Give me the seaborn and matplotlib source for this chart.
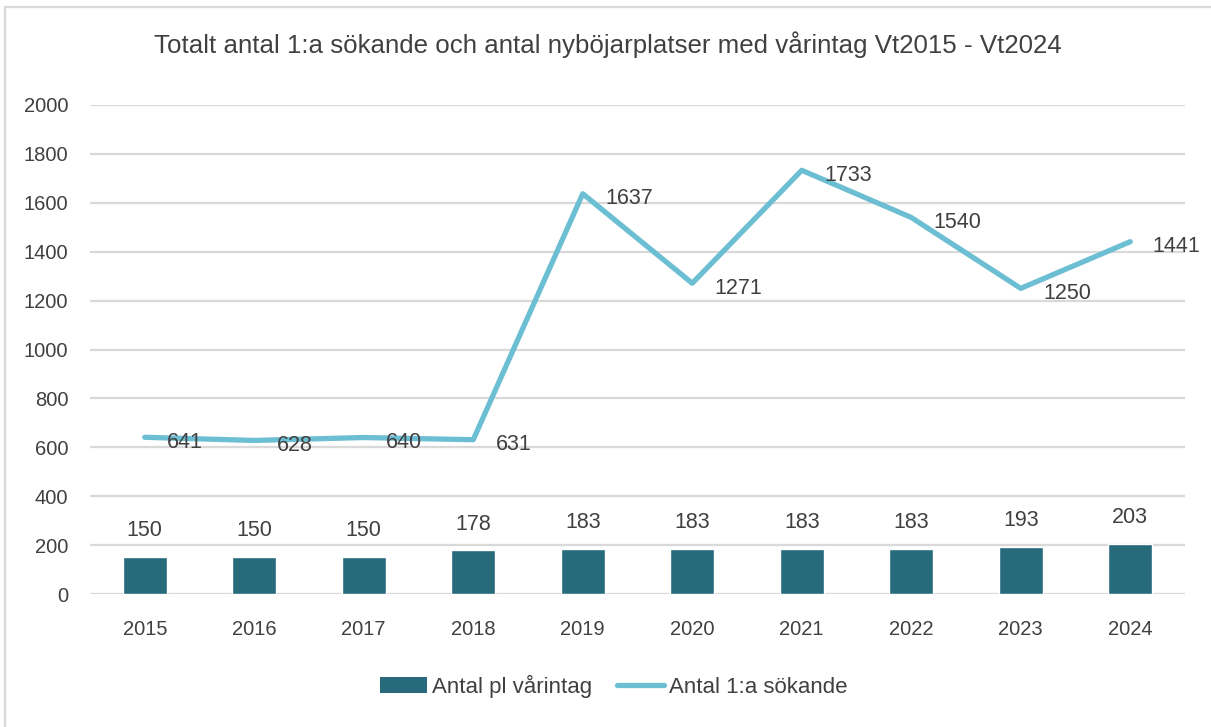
import matplotlib
matplotlib.use("Agg")
import matplotlib.pyplot as plt
from matplotlib.lines import Line2D
from matplotlib.patches import Patch
import seaborn as sns
import pandas as pd

# Data
years = ["2015", "2016", "2017", "2018", "2019", "2020", "2021", "2022", "2023", "2024"]
platser = [150, 150, 150, 178, 183, 183, 183, 183, 193, 203]
sokande = [641, 628, 640, 631, 1637, 1271, 1733, 1540, 1250, 1441]

title = "Totalt antal 1:a sökande och antal nyböjarplatser med vårintag Vt2015 - Vt2024"
bar_label = "Antal pl vårintag"
line_label = "Antal 1:a sökande"

BAR_COLOR = "#276A7B"
LINE_COLOR = "#6CBED3"
TEXT_COLOR = "#404040"
GRID_COLOR = "#D9D9D9"

sns.set_theme(style="white")
plt.rcParams["font.family"] = ["Liberation Sans", "DejaVu Sans"]

df = pd.DataFrame({"year": years, "platser": platser, "sokande": sokande})

W, H = 1211, 727
fig = plt.figure(figsize=(W / 100, H / 100), dpi=100)
ax = fig.add_axes([90 / W, 1 - 594 / H, (1185 - 90) / W, (594 - 105) / H])

sns.barplot(data=df, x="year", y="platser", color=BAR_COLOR, width=0.4,
            saturation=1, ax=ax, zorder=2)
sns.lineplot(x=range(len(years)), y=df["sokande"], color=LINE_COLOR,
             linewidth=3.8, ax=ax, zorder=3, solid_capstyle="round")

ax.set_xlim(-0.5, len(years) - 0.5)
ax.set_ylim(0, 2000)
ax.set_yticks(range(0, 2001, 200))
ax.set_xlabel("")
ax.set_ylabel("")
ax.yaxis.grid(True, color=GRID_COLOR, linewidth=1.6, zorder=0)
ax.set_axisbelow(True)
for s in ax.spines.values():
    s.set_visible(False)
ax.tick_params(axis="both", length=0, labelsize=14.5, colors=TEXT_COLOR)
ax.tick_params(axis="y", pad=15.5)
ax.tick_params(axis="x", pad=19)

# Value labels
for i, v in enumerate(platser):
    ax.annotate(str(v), (i, v), xytext=(0, 19), textcoords="offset points",
                ha="center", va="center", fontsize=15.5, color=TEXT_COLOR)
for i, v in enumerate(sokande):
    ax.annotate(str(v), (i, v), xytext=(16, -3.5), textcoords="offset points",
                ha="left", va="center", fontsize=15.5, color=TEXT_COLOR)

fig.text(0.502, 1 - 45 / H, title, ha="center", va="center",
         fontsize=18.6, color=TEXT_COLOR)

handles = [Patch(facecolor=BAR_COLOR, edgecolor="none"),
           Line2D([0], [0], color=LINE_COLOR, linewidth=3.8, solid_capstyle="round")]
fig.legend(handles, [bar_label, line_label], loc="center",
           bbox_to_anchor=(0.507, 1 - 686 / H), ncol=2, frameon=False,
           fontsize=16, labelcolor=TEXT_COLOR, handlelength=2.1,
           handletextpad=0.25, columnspacing=1.1)

# Outer frame (top and left edges)
fig.add_artist(Line2D([5 / W, 1.0], [1 - 7 / H, 1 - 7 / H], color=GRID_COLOR,
                      linewidth=1.6, transform=fig.transFigure))
fig.add_artist(Line2D([5 / W, 5 / W], [0, 1 - 7 / H], color=GRID_COLOR,
                      linewidth=1.6, transform=fig.transFigure))

fig.savefig("out.png", dpi=100, facecolor="white")
